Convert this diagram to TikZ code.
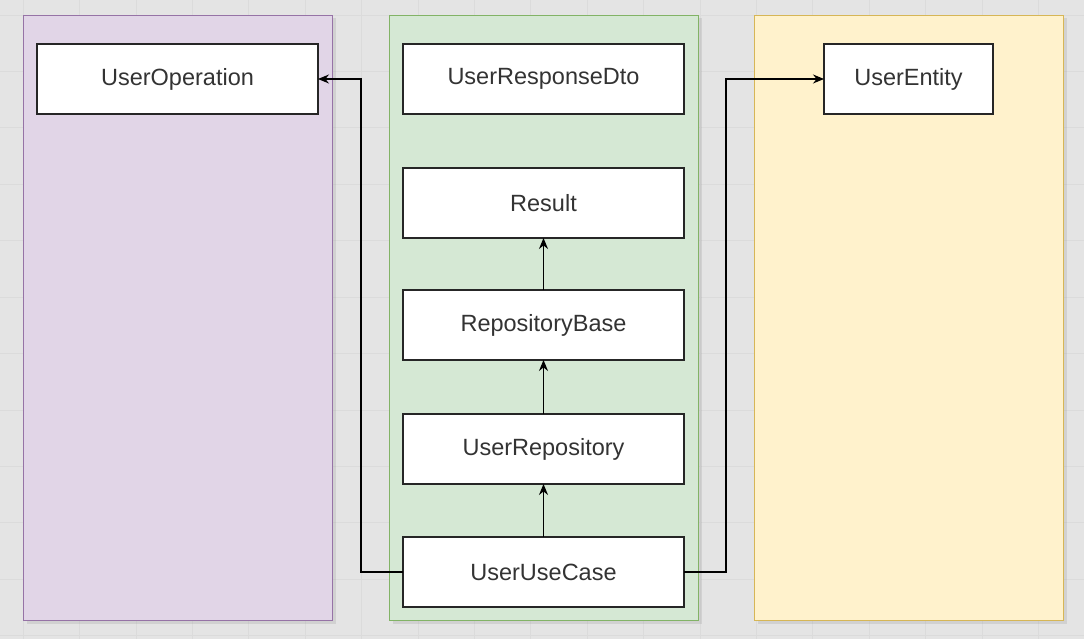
\documentclass[tikz,border=0pt]{standalone}
\usepackage{fontspec}
\setmainfont{Liberation Sans}
\usepackage{tikz}
\usetikzlibrary{positioning}
\usetikzlibrary{arrows.meta}
\usetikzlibrary{shadows}

\definecolor{canvasgray}{HTML}{E4E4E4}
\definecolor{gridgray}{HTML}{DBDBDB}
\definecolor{opsfill}{HTML}{E1D5E7}
\definecolor{opsline}{HTML}{9673A6}
\definecolor{appfill}{HTML}{D5E8D4}
\definecolor{appline}{HTML}{82B366}
\definecolor{datafill}{HTML}{FFF2CC}
\definecolor{dataline}{HTML}{D6B656}
\definecolor{labelgray}{HTML}{333333}

\tikzset{
    panel/.style={draw, line width=1pt, minimum width=309pt, minimum height=605pt, inner sep=0pt,
        drop shadow={opacity=0.18, shadow xshift=3pt, shadow yshift=-3pt}},
    classbox/.style={draw=black!85, fill=white, line width=1.1pt, minimum width=281pt, minimum height=70pt,
        inner sep=0pt, outer sep=0pt, text=labelgray, font=\fontsize{23.5}{28}\selectfont},
    link/.style={line width=1.1pt, -{Stealth[length=11pt, width=9pt]}},
}

\begin{document}
\begin{tikzpicture}[x=1pt, y=-1pt]
    \useasboundingbox[fill=canvasgray] (0,0) rectangle (1084,639);
    \draw[gridgray, line width=0.6pt, shift={(23,15)}] (-23,-15) grid[xstep=56.4pt, ystep=56.4pt] (1061,624);

    % columns
    \node[panel, draw=opsline, fill=opsfill, anchor=north west] (opspanel) at (23,15) {};
    \node[panel, draw=appline, fill=appfill, anchor=north west] (apppanel) at (389,15) {};
    \node[panel, draw=dataline, fill=datafill, anchor=north west] (datapanel) at (754,15) {};

    % classes
    \node[classbox, anchor=north west] (operation) at (37,44) {UserOperation};
    \node[classbox, anchor=north west] (responsedto) at (403,44) {UserResponseDto};
    \node[classbox, below=54pt of responsedto] (result) {Result};
    \node[classbox, below=52pt of result] (repobase) {RepositoryBase};
    \node[classbox, below=54pt of repobase] (userrepo) {UserRepository};
    \node[classbox, below=53pt of userrepo] (usecase) {UserUseCase};
    \node[classbox, minimum width=169pt, anchor=north west] (entity) at (824,44) {UserEntity};

    % dependencies
    \draw[link] (usecase) -- (userrepo);
    \draw[link] (userrepo) -- (repobase);
    \draw[link] (repobase) -- (result);
    \draw[link] (usecase.west) -- ++(-42pt,0) |- (operation.east);
    \draw[link] (usecase.east) -- ++(42pt,0) |- (entity.west);
\end{tikzpicture}
\end{document}
